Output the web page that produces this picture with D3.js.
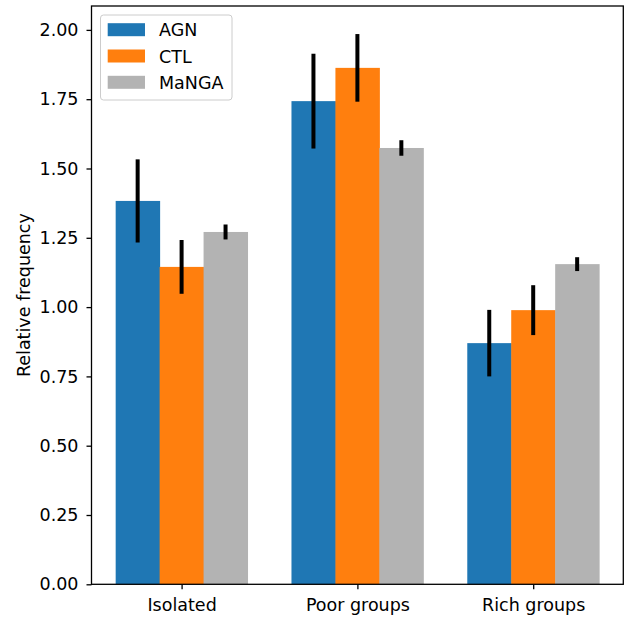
<!DOCTYPE html>
<html>
<head>
<meta charset="utf-8">
<script src="https://cdn.jsdelivr.net/npm/d3@7"></script>
<style>
  html, body { margin: 0; padding: 0; background: #fff; }
  svg text { font-family: "DejaVu Sans", sans-serif; fill: #000; }
</style>
</head>
<body>
<svg id="chart" width="636" height="618"></svg>
<script>
// Environment categories and sample series
const categories = ["Isolated", "Poor groups", "Rich groups"];
const seriesNames = ["AGN", "CTL", "MaNGA"];
const agnValues = [1.383, 1.743, 0.870];
const agnErrors = [0.150, 0.171, 0.120];
const ctlValues = [1.145, 1.863, 0.989];
const ctlErrors = [0.097, 0.122, 0.090];
const mangaValues = [1.271, 1.574, 1.155];
const mangaErrors = [0.027, 0.028, 0.025];
const yTicks = [0, 0.25, 0.5, 0.75, 1.0, 1.25, 1.5, 1.75, 2.0];

const colors = ["#1f77b4", "#ff7f0e", "#b3b3b3"];
const series = [
  { name: seriesNames[0], values: agnValues, errors: agnErrors, color: colors[0], offset: -1 },
  { name: seriesNames[1], values: ctlValues, errors: ctlErrors, color: colors[1], offset: 0 },
  { name: seriesNames[2], values: mangaValues, errors: mangaErrors, color: colors[2], offset: 1 }
];

const barWidth = 0.25;
const fontSize = "17.5px";
const plot = { left: 91.5, right: 623.3, top: 6, bottom: 584.3 };

const svg = d3.select("#chart");

// Numeric x positions of each category (0, 1, 2) with bar-edge margins
const x = d3.scaleLinear().domain([-0.5125, 2.5125]).range([plot.left, plot.right]);
const y = d3.scaleLinear().domain([0, 2.0862]).range([plot.bottom, plot.top]);

const g = svg.append("g");

// Bars
series.forEach(s => {
  g.selectAll(null)
    .data(s.values)
    .enter().append("rect")
    .attr("x", (d, i) => x(i + s.offset * barWidth - barWidth / 2))
    .attr("width", x(barWidth) - x(0) + 0.5)
    .attr("y", d => y(d))
    .attr("height", d => y(0) - y(d))
    .attr("fill", s.color);
});

// Error bars
series.forEach(s => {
  g.selectAll(null)
    .data(s.values)
    .enter().append("line")
    .attr("x1", (d, i) => x(i + s.offset * barWidth))
    .attr("x2", (d, i) => x(i + s.offset * barWidth))
    .attr("y1", (d, i) => y(d - s.errors[i]))
    .attr("y2", (d, i) => y(d + s.errors[i]))
    .attr("stroke", "#000")
    .attr("stroke-width", 4);
});

// Axes
const yAxis = d3.axisLeft(y).tickValues(yTicks).tickFormat(d3.format(".2f")).tickSize(5).tickPadding(8);
const xAxis = d3.axisBottom(x).tickValues([0, 1, 2]).tickFormat(i => categories[i]).tickSize(5).tickPadding(9);

const yG = svg.append("g").attr("transform", `translate(${plot.left},0)`).call(yAxis);
const xG = svg.append("g").attr("transform", `translate(0,${plot.bottom})`).call(xAxis);
[yG, xG].forEach(a => {
  a.select(".domain").remove();
  a.selectAll(".tick line").attr("stroke", "#000").attr("stroke-width", 1.3);
  a.selectAll(".tick text").style("font-size", fontSize).attr("fill", "#000");
});

// Frame
svg.append("rect")
  .attr("x", plot.left).attr("y", plot.top)
  .attr("width", plot.right - plot.left).attr("height", plot.bottom - plot.top)
  .attr("fill", "none").attr("stroke", "#000").attr("stroke-width", 1.3);

// Y axis title
svg.append("text")
  .attr("transform", `translate(30,${(plot.top + plot.bottom) / 2}) rotate(-90)`)
  .attr("text-anchor", "middle")
  .style("font-size", fontSize)
  .text("Relative frequency");

// Legend
const legend = svg.append("g");
legend.append("rect")
  .attr("x", 100.5).attr("y", 15).attr("width", 131.5).attr("height", 85)
  .attr("rx", 3).attr("fill", "#fff").attr("fill-opacity", 0.8)
  .attr("stroke", "#ccc").attr("stroke-width", 1);
series.forEach((s, i) => {
  const yy = 29.7 + i * 26.3;
  legend.append("rect")
    .attr("x", 107.7).attr("y", yy - 6.5).attr("width", 37.3).attr("height", 13)
    .attr("fill", s.color);
  legend.append("text")
    .attr("x", 159).attr("y", yy + 6.6)
    .style("font-size", fontSize)
    .text(s.name);
});
</script>
</body>
</html>
